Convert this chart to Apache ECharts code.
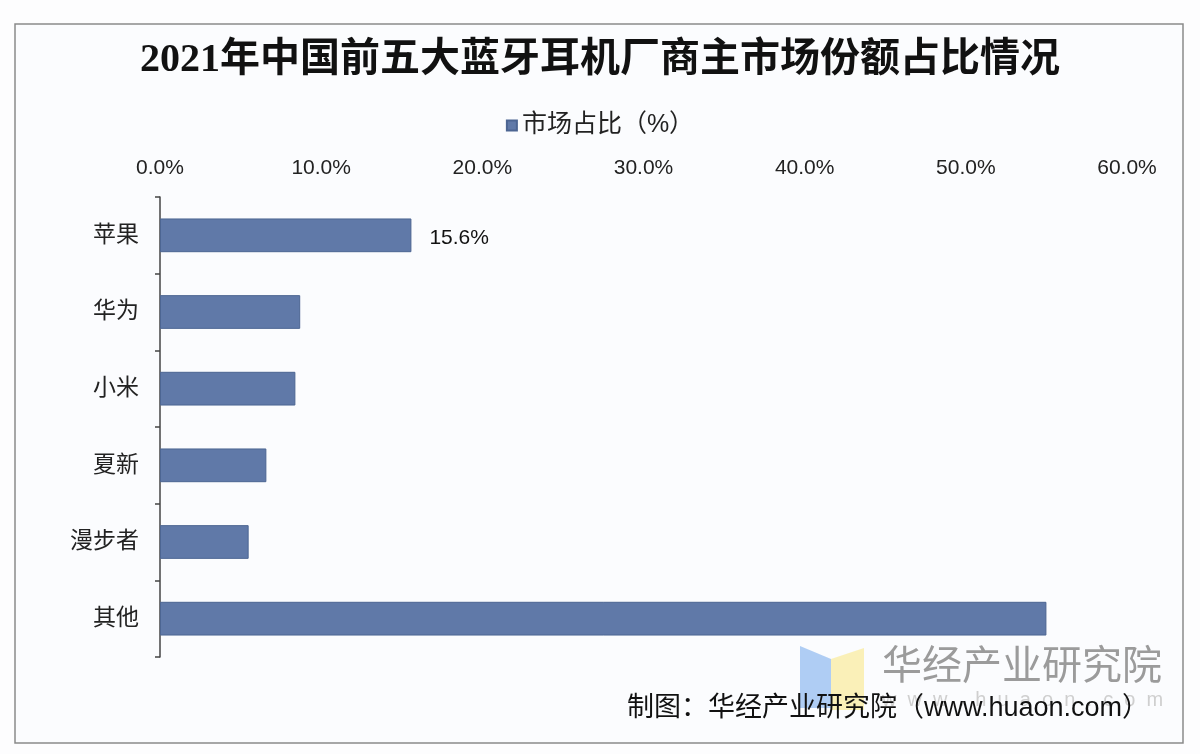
<!DOCTYPE html>
<html>
<head>
<meta charset="utf-8">
<script src="https://cdn.jsdelivr.net/npm/echarts@6/dist/echarts.min.js"></script>
<style>
html,body{margin:0;padding:0;background:#fdfdfe;}
#main{width:1200px;height:754px;}
</style>
</head>
<body>
<div id="main"></div>
<script>
const titleText = '2021年中国前五大蓝牙耳机厂商主市场份额占比情况';
const seriesName = '市场占比（%）';
const categories = ['苹果', '华为', '小米', '夏新', '漫步者', '其他'];
const shares = [15.6, 8.7, 8.4, 6.6, 5.5, 55.0];
const labelledCategories = ['苹果'];
const axisMin = 0, axisMax = 60, axisStep = 10;
const sourceNote = '制图：华经产业研究院（www.huaon.com）';
const watermark = '华经产业研究院';
const watermarkUrl = 'w  w  w  .  h  u  a  o  n  .  c  o  m';

const cjk = "'Liberation Sans','Noto Sans CJK SC',sans-serif";
const chart = echarts.init(document.getElementById('main'));
chart.setOption({
  animation: false,
  backgroundColor: 'transparent',
  title: {
    text: titleText,
    left: 'center',
    top: 36,
    textStyle: {fontSize: 40, fontWeight: 'bold', color: '#111', fontFamily: "'Liberation Serif','Noto Sans CJK SC',serif"}
  },
  legend: {
    data: [seriesName],
    top: 108,
    left: 'center',
    itemWidth: 10, itemHeight: 10,
    icon: 'rect',
    itemGap: 6,
    textStyle: {fontSize: 25, color: '#222', fontFamily: cjk}
  },
  grid: {left: 160, right: 73, top: 197, bottom: 97, containLabel: false},
  xAxis: {
    type: 'value',
    position: 'top',
    min: axisMin, max: axisMax, interval: axisStep,
    axisLine: {show: false},
    axisTick: {show: false},
    splitLine: {show: false},
    axisLabel: {
      formatter: v => v.toFixed(1) + '%',
      fontSize: 21, color: '#222', margin: 18,
      fontFamily: cjk
    }
  },
  yAxis: {
    type: 'category',
    data: categories,
    inverse: true,
    axisLine: {lineStyle: {color: '#444', width: 1.5}},
    axisTick: {show: true, length: 5, lineStyle: {color: '#444', width: 1.5}},
    axisLabel: {fontSize: 23, color: '#222', margin: 21, fontFamily: cjk, padding: [6, 0, 0, 0]}
  },
  series: [{
    name: seriesName,
    type: 'bar',
    data: shares.map((v, i) => ({
      value: v,
      label: {show: labelledCategories.includes(categories[i])}
    })),
    barCategoryGap: '56%',
    itemStyle: {color: '#6079a8', borderColor: '#4c6592', borderWidth: 1},
    label: {
      position: 'right',
      distance: 18,
      offset: [0, 3],
      formatter: p => p.value.toFixed(1) + '%',
      fontSize: 21, color: '#111', fontFamily: cjk
    }
  }],
  graphic: [
    {type: 'rect', z: -10, shape: {x: 15, y: 24, width: 1168, height: 719},
     style: {fill: '#fbfcfe', stroke: '#8a8a8a', lineWidth: 1.5}},
    {type: 'polygon', z: 50, shape: {points: [[800, 646], [831, 659], [831, 708], [800, 708]]},
     style: {fill: 'rgba(150,190,240,0.75)'}},
    {type: 'polygon', z: 50, shape: {points: [[831, 659], [864, 648], [864, 710], [831, 710]]},
     style: {fill: 'rgba(250,236,160,0.75)'}},
    {type: 'text', z: 51, left: 882, top: 648,
     style: {text: watermark, fontSize: 40, fill: '#9b9b9b', fontFamily: cjk}},
    {type: 'text', z: 51, left: 882, top: 690,
     style: {text: watermarkUrl, fontSize: 20, fill: '#cfcfcf', fontFamily: cjk}},
    {type: 'text', z: 60, left: 627, top: 695,
     style: {text: sourceNote, fontSize: 27, fill: '#111', fontFamily: cjk}}
  ]
});
</script>
</body>
</html>
